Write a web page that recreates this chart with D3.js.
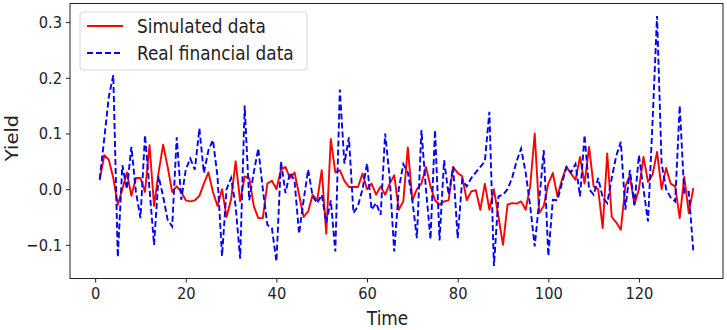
<!DOCTYPE html>
<html>
<head>
<meta charset="utf-8">
<script src="https://cdn.jsdelivr.net/npm/d3@7"></script>
<style>
  body { margin: 0; background: #fff; }
  text { font-family: "DejaVu Sans", sans-serif; fill: #222; }
</style>
</head>
<body>
<div id="viz"></div>
<script>
// time steps 1..132
let time = d3.range(1, 133);

// simulated yield (red solid line)
let simulated = [
  0.016, 0.061, 0.053, 0.02, -0.028, 0.0, 0.03, -0.012, 0.02, 0.02,
  -0.005, 0.079, -0.03, 0.03, 0.08, 0.04, -0.005, 0.005, -0.005, -0.02,
  -0.022, -0.02, -0.012, 0.01, 0.03, -0.005, -0.03, 0.0, -0.05, -0.018,
  0.05, -0.022, 0.023, 0.02, -0.03, -0.052, -0.052, 0.01, 0.015, 0.0,
  0.035, 0.04, 0.02, 0.03, -0.01, -0.05, -0.04, -0.01, -0.02, 0.034,
  -0.08, 0.09, 0.03, 0.034, 0.015, 0.004, 0.004, 0.004, 0.028, 0.0,
  0.01, -0.01, 0.005, -0.01, 0.01, 0.025, -0.037, -0.022, 0.075, -0.02,
  0.0, 0.01, 0.04, 0.005, -0.02, -0.028, -0.022, -0.02, 0.04, 0.029,
  0.023, -0.02, -0.004, -0.002, -0.037, 0.01, -0.037, 0.0, -0.05, -0.1,
  -0.028, -0.025, -0.026, -0.022, -0.037, 0.005, 0.1, -0.043, -0.03, 0.01,
  0.029, -0.013, 0.017, 0.04, 0.028, 0.017, 0.058, 0.01, 0.076, 0.005,
  0.0, -0.07, 0.064, -0.05, -0.06, -0.073, 0.005, 0.025, -0.028, 0.0,
  0.058, 0.013, 0.026, 0.067, 0.0, 0.038, 0.01, 0.005, -0.052, 0.022,
  -0.043, 0.002
];

// real financial yield (blue dashed line)
let real = [
  0.018, 0.09, 0.165, 0.205, -0.122, 0.043, 0.0, 0.076, -0.005, -0.052,
  0.097, 0.0, -0.1, 0.023, -0.013, -0.055, -0.067, 0.093, -0.019, 0.035,
  0.055, 0.035, 0.109, 0.029, 0.07, 0.088, 0.023, -0.12, 0.0, 0.02,
  -0.03, -0.125, 0.15, -0.02, 0.03, 0.073, 0.0, -0.064, -0.07, -0.13,
  0.05, -0.007, 0.03, 0.015, -0.08, -0.02, 0.035, -0.013, -0.025, -0.01,
  -0.06, -0.02, -0.112, 0.179, 0.046, 0.093, -0.043, -0.03, 0.0, 0.046,
  -0.037, -0.025, -0.046, 0.1, 0.02, -0.112, 0.0, 0.045, 0.03, -0.02,
  -0.088, 0.106, 0.0, -0.09, 0.106, -0.092, 0.052, -0.01, 0.04, -0.088,
  0.017, 0.005, 0.02, 0.03, 0.04, 0.05, 0.139, -0.138, -0.013, -0.01,
  0.0, 0.02, 0.05, 0.073, 0.03, -0.03, -0.103, -0.02, 0.07, -0.12,
  -0.019, -0.02, 0.01, 0.04, 0.03, 0.045, -0.013, 0.097, 0.0, -0.01,
  0.02, -0.015, -0.025, 0.02, 0.06, 0.085, -0.037, 0.034, -0.028, 0.061,
  0.0, -0.058, 0.12, 0.311, 0.046, 0.0, -0.015, -0.022, 0.15, -0.007,
  -0.005, -0.112
];

let xTicks = [0, 20, 40, 60, 80, 100, 120];
let yTicks = [-0.1, 0.0, 0.1, 0.2, 0.3];
let labels = ['Simulated data', 'Real financial data'];

// the picture looks squeezed sideways, so text gets a horizontal squeeze too
const squeeze = 0.89;

const width = 727;
const height = 330;
const frame = { left: 70, right: 723, top: 3.5, bottom: 278.5 };

const svg = d3.select('#viz').append('svg')
    .attr('width', width)
    .attr('height', height);

// matplotlib style 5% padding around the data
const xPad = (d3.max(time) - d3.min(time)) * 0.05;
const yExtent = d3.extent(simulated.concat(real));
const yPad = (yExtent[1] - yExtent[0]) * 0.05;

const xScale = d3.scaleLinear()
    .domain([d3.min(time) - xPad, d3.max(time) + xPad])
    .range([frame.left, frame.right]);

const yScale = d3.scaleLinear()
    .domain([yExtent[0] - yPad, yExtent[1] + yPad])
    .range([frame.bottom, frame.top]);

// axes
const xAxis = svg.append('g')
    .attr('transform', `translate(0,${frame.bottom})`)
    .call(d3.axisBottom(xScale).tickValues(xTicks).tickSize(4).tickPadding(5).tickFormat(d3.format('d')));

const yAxis = svg.append('g')
    .attr('transform', `translate(${frame.left},0)`)
    .call(d3.axisLeft(yScale).tickValues(yTicks).tickSize(4).tickPadding(4).tickFormat(d3.format('.1f')));

[xAxis, yAxis].forEach(function(ax) {
    ax.select('.domain').remove();
    ax.selectAll('.tick line').attr('stroke', '#222');
    ax.selectAll('.tick text')
        .attr('font-size', 16.5)
        .attr('font-family', '"DejaVu Sans", sans-serif')
        .attr('fill', '#222');
});

// squeeze the tick labels around their anchor point
xAxis.selectAll('.tick text')
    .attr('dy', '0.71em')
    .attr('transform', `scale(${squeeze},1)`);
yAxis.selectAll('.tick text')
    .attr('transform', `scale(${squeeze},1)`)
    .attr('x', -8 / squeeze);

// clip lines to the frame
svg.append('defs').append('clipPath')
    .attr('id', 'clip')
    .append('rect')
        .attr('x', frame.left)
        .attr('y', frame.top)
        .attr('width', frame.right - frame.left)
        .attr('height', frame.bottom - frame.top);

const line = d3.line()
    .x(function(d, i) { return xScale(time[i]); })
    .y(function(d) { return yScale(d); });

const plot = svg.append('g').attr('clip-path', 'url(#clip)');

plot.append('path')
    .datum(simulated)
    .attr('d', line)
    .attr('fill', 'none')
    .attr('stroke', '#ff0000')
    .attr('stroke-width', 1.9)
    .attr('stroke-linejoin', 'round');

plot.append('path')
    .datum(real)
    .attr('d', line)
    .attr('fill', 'none')
    .attr('stroke', '#0000ff')
    .attr('stroke-width', 1.9)
    .attr('stroke-dasharray', '6,3');

// frame around the axes
svg.append('rect')
    .attr('x', frame.left)
    .attr('y', frame.top)
    .attr('width', frame.right - frame.left)
    .attr('height', frame.bottom - frame.top)
    .attr('fill', 'none')
    .attr('stroke', '#222')
    .attr('stroke-width', 1);

// axis titles
svg.append('text')
    .attr('transform', `translate(${(frame.left + frame.right) / 2 - 9},318) scale(${squeeze},1)`)
    .attr('text-anchor', 'middle')
    .attr('dominant-baseline', 'central')
    .attr('font-size', 19)
    .text('Time');

svg.append('text')
    .attr('transform', `translate(12,138) scale(${squeeze},1) rotate(-90)`)
    .attr('text-anchor', 'middle')
    .attr('dominant-baseline', 'central')
    .attr('font-size', 19.5)
    .text('Yield');

// legend
const legend = svg.append('g');

legend.append('rect')
    .attr('x', 80)
    .attr('y', 12)
    .attr('width', 227)
    .attr('height', 58)
    .attr('rx', 3)
    .attr('fill', '#fff')
    .attr('fill-opacity', 0.8)
    .attr('stroke', '#d6d6d6');

let legendColors = ['#ff0000', '#0000ff'];
let legendDash = [null, '6,3'];

labels.forEach(function(label, i) {
    let y = 26 + i * 27;
    legend.append('line')
        .attr('x1', 87)
        .attr('x2', 123)
        .attr('y1', y)
        .attr('y2', y)
        .attr('stroke', legendColors[i])
        .attr('stroke-width', 1.9)
        .attr('stroke-dasharray', legendDash[i]);
    legend.append('text')
        .attr('transform', `translate(137,${y}) scale(${squeeze},1)`)
        .attr('dominant-baseline', 'central')
        .attr('font-size', 19)
        .text(label);
});
</script>
</body>
</html>
